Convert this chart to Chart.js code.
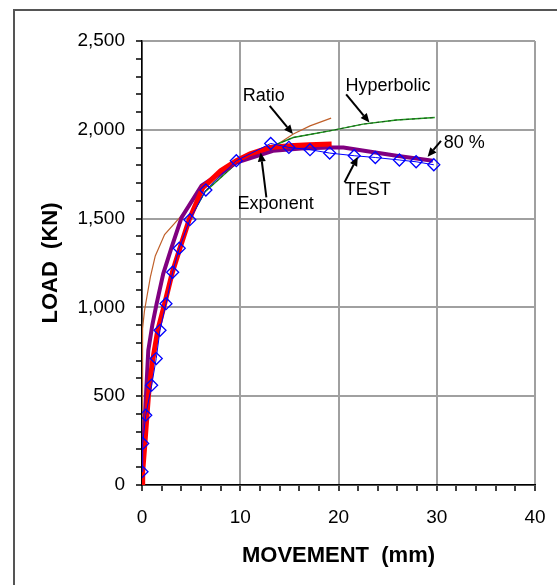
<!DOCTYPE html>
<html>
<head>
<meta charset="utf-8">
<script src="https://cdn.jsdelivr.net/npm/chart.js@4.4.0/dist/chart.umd.min.js"></script>
<style>
  body { margin: 0; background: #fff; }
  canvas { display: block; }
</style>
</head>
<body>
<canvas id="chart" width="557" height="585"></canvas>
<script>
// measured load-movement test and the fitted curves
const testX = [0, 0.07, 0.38, 0.98, 1.45, 1.83, 2.44, 3.12, 3.79, 4.87, 6.5, 9.6, 13.1, 14.95, 17.1, 19.1, 21.6, 23.75, 26.2, 27.9, 29.7];
const testY = [75, 234, 393, 562, 712, 871, 1021, 1198, 1333, 1494, 1661, 1826, 1923, 1901, 1888, 1869, 1854, 1844, 1830, 1820, 1803];

const exponentX = [0, 0.07, 0.3, 0.65, 1.05, 1.6, 2.3, 3.1, 3.9, 4.8, 6.2, 8, 9.6, 11, 13, 15, 17, 19.3];
const exponentY = [0, 75, 237, 500, 690, 870, 1020, 1200, 1340, 1494, 1676, 1770, 1826, 1865, 1900, 1910, 1916, 1920];

const ratioX = [0, 0.02, 0.05, 0.1, 0.25, 0.5, 0.85, 1.35, 2.3, 3.9, 6.06, 9.6, 13.3, 15.4, 17.1, 19.25];
const ratioY = [0, 400, 700, 880, 980, 1060, 1170, 1290, 1410, 1510, 1657, 1810, 1901, 1976, 2022, 2066];

const hyperbolicX = [0, 0.1, 0.3, 0.7, 1.2, 1.7, 2.3, 3.0, 3.7, 4.7, 6.4, 9.6, 13.36, 15.4, 19.1, 22.5, 25.9, 29.8];
const hyperbolicY = [0, 200, 400, 600, 760, 890, 1030, 1190, 1330, 1480, 1650, 1810, 1910, 1957, 1994, 2032, 2055, 2069];

const eightyX = [0, 0.05, 0.14, 0.3, 0.64, 1.05, 1.49, 2.16, 3.02, 4.03, 6.06, 9.61, 13.33, 16.2, 19.1, 20.5, 23.1, 25.9, 29.6];
const eightyY = [0, 120, 235, 393, 758, 900, 1021, 1189, 1339, 1507, 1685, 1816, 1882, 1895, 1900, 1900, 1878, 1854, 1826];

const xTickLabels = ['0', '10', '20', '30', '40'];
const yTickLabels = ['0', '500', '1,000', '1,500', '2,000', '2,500'];

// callout texts with their arrows (data units)
const notes = [
  { text: 'Ratio', at: [12.39, 2191], from: [13.0, 2135], to: [15.36, 1976] },
  { text: 'Hyperbolic', at: [25.03, 2249], from: [20.78, 2200], to: [23.15, 2041] },
  { text: '80 %', at: [32.79, 1927], from: [30.43, 1938], to: [29.07, 1848] },
  { text: 'TEST', at: [22.97, 1663], from: [20.61, 1704], to: [21.96, 1848] },
  { text: 'Exponent', at: [13.6, 1584], from: [12.66, 1620], to: [12.08, 1872] }
];

const FONT = '"Liberation Sans", Arial, sans-serif';

function pts(xs, ys) {
  return xs.map((x, i) => ({ x: x, y: ys[i] }));
}

const framePlugin = {
  id: 'frame',
  beforeDraw(chart) {
    const ctx = chart.ctx;
    ctx.save();
    ctx.fillStyle = '#fff';
    ctx.fillRect(0, 0, chart.width, chart.height);
    ctx.strokeStyle = '#555';
    ctx.lineWidth = 2;
    ctx.beginPath();
    ctx.moveTo(14, chart.height);
    ctx.lineTo(14, 10);
    ctx.lineTo(chart.width, 10);
    ctx.stroke();
    ctx.restore();
  }
};

const notesPlugin = {
  id: 'notes',
  afterDatasetsDraw(chart) {
    const ctx = chart.ctx;
    const sx = chart.scales.x, sy = chart.scales.y;
    ctx.save();
    ctx.fillStyle = '#000';
    ctx.strokeStyle = '#000';
    ctx.lineWidth = 2;
    ctx.font = '18px ' + FONT;
    ctx.textAlign = 'center';
    ctx.textBaseline = 'middle';
    notes.forEach(n => {
      const x1 = sx.getPixelForValue(n.from[0]), y1 = sy.getPixelForValue(n.from[1]);
      const x2 = sx.getPixelForValue(n.to[0]), y2 = sy.getPixelForValue(n.to[1]);
      const a = Math.atan2(y2 - y1, x2 - x1);
      const hl = 9, hw = 4;
      const bx = x2 - hl * Math.cos(a), by = y2 - hl * Math.sin(a);
      ctx.beginPath();
      ctx.moveTo(x1, y1);
      ctx.lineTo(bx, by);
      ctx.stroke();
      ctx.beginPath();
      ctx.moveTo(x2, y2);
      ctx.lineTo(bx + hw * Math.sin(a), by - hw * Math.cos(a));
      ctx.lineTo(bx - hw * Math.sin(a), by + hw * Math.cos(a));
      ctx.closePath();
      ctx.fill();
      ctx.fillText(n.text, sx.getPixelForValue(n.at[0]), sy.getPixelForValue(n.at[1]));
    });
    ctx.restore();
  }
};

const lineBase = { showLine: true, pointRadius: 0, pointHoverRadius: 0, tension: 0, fill: false };

new Chart(document.getElementById('chart'), {
  type: 'scatter',
  data: {
    datasets: [
      Object.assign({}, lineBase, { label: 'TEST', data: pts(testX, testY), borderColor: '#0000ff', borderWidth: 1,
        pointStyle: 'rectRot', pointRadius: 6, pointBorderWidth: 1.3, pointBackgroundColor: 'rgba(0,0,0,0)', pointBorderColor: '#0000ff', order: 1 }),
      Object.assign({}, lineBase, { label: 'Exponent', data: pts(exponentX, exponentY), borderColor: '#ff0000', borderWidth: 5, order: 2 }),
      Object.assign({}, lineBase, { label: '80 %', data: pts(eightyX, eightyY), borderColor: '#800080', borderWidth: 4, order: 3 }),
      Object.assign({}, lineBase, { label: 'Hyperbolic dash', data: pts(hyperbolicX, hyperbolicY), borderColor: '#1f4f1f', borderWidth: 1, borderDash: [3, 3], order: 4 }),
      Object.assign({}, lineBase, { label: 'Hyperbolic', data: pts(hyperbolicX, hyperbolicY), borderColor: '#1a9a1a', borderWidth: 1.5, order: 5 }),
      Object.assign({}, lineBase, { label: 'Ratio', data: pts(ratioX, ratioY), borderColor: '#c0602a', borderWidth: 1.2, order: 6 })
    ]
  },
  options: {
    responsive: false,
    animation: false,
    events: [],
    layout: { padding: { left: 0, right: 22, top: 41, bottom: 0 } },
    plugins: { legend: { display: false }, tooltip: { enabled: false } },
    scales: {
      x: {
        type: 'linear', min: 0, max: 40,
        afterFit: s => { s.height = 100; s.paddingLeft = 0; s.paddingRight = 0; },
        ticks: {
          stepSize: 2, autoSkip: false, maxRotation: 0, padding: 15, color: '#000',
          font: { family: FONT, size: 19 },
          callback: v => (v % 10 === 0 ? xTickLabels[v / 10] : '')
        },
        grid: {
          color: c => (c.tick && c.tick.value % 10 === 0 ? '#a0a0a0' : 'rgba(0,0,0,0)'),
          lineWidth: 2, tickColor: '#000', tickLength: 6, tickWidth: 1.5
        },
        border: { color: '#000', width: 1.5 },
        title: { display: true, text: 'MOVEMENT  (mm)', color: '#000', padding: { top: 0, bottom: 16 },
          font: { family: FONT, size: 22, weight: 'bold', lineHeight: 1.2 } }
      },
      y: {
        type: 'linear', min: 0, max: 2500,
        afterFit: s => { s.width = 142; s.paddingTop = 0; s.paddingBottom = 0; },
        ticks: {
          stepSize: 100, autoSkip: false, padding: 11, color: '#000',
          font: { family: FONT, size: 19 },
          callback: v => (v % 500 === 0 ? yTickLabels[v / 500] : '')
        },
        grid: {
          color: c => (c.tick && c.tick.value % 500 === 0 ? '#a0a0a0' : 'rgba(0,0,0,0)'),
          lineWidth: 2, tickColor: '#000', tickLength: 6, tickWidth: 1.5
        },
        border: { color: '#000', width: 1.5 },
        title: { display: true, text: 'LOAD  (KN)', color: '#000', padding: { top: 38, bottom: 0 },
          font: { family: FONT, size: 22, weight: 'bold', lineHeight: 1.2 } }
      }
    }
  },
  plugins: [framePlugin, notesPlugin]
});
</script>
</body>
</html>
